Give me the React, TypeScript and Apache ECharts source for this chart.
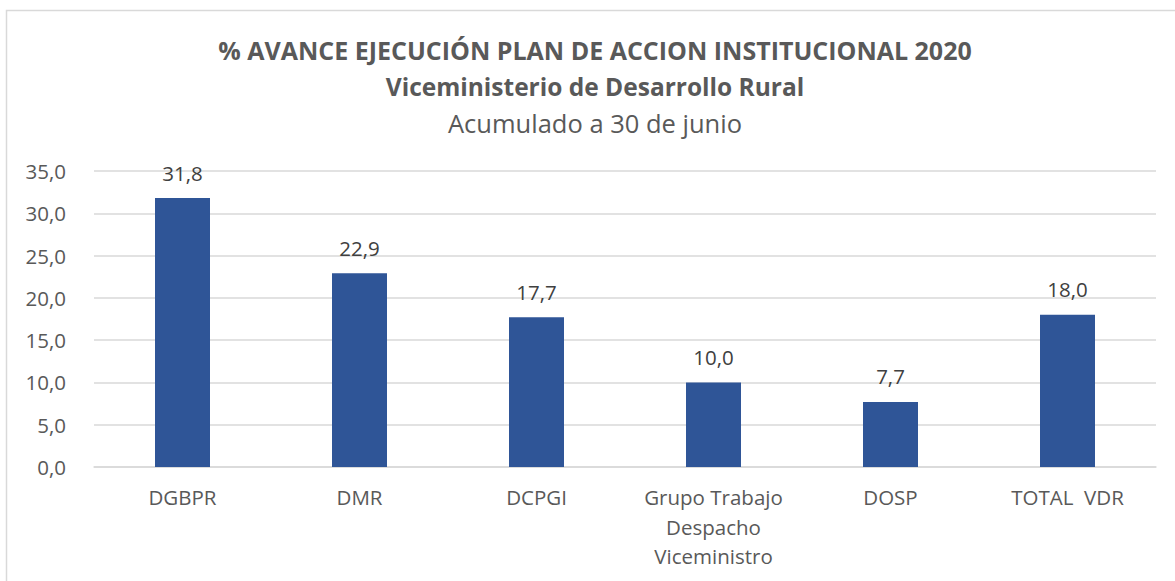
import React, { useEffect, useRef } from "react";
import * as echarts from "echarts";

const categories = ["DGBPR", "DMR", "DCPGI", "Grupo Trabajo\nDespacho\nViceministro", "DOSP", "TOTAL  VDR"];
const values = [31.8, 22.9, 17.7, 10.0, 7.7, 18.0];
const titleLines = [
  "% AVANCE EJECUCIÓN PLAN DE ACCION INSTITUCIONAL 2020",
  "Viceministerio de Desarrollo Rural",
  "Acumulado a 30 de junio",
];

const FONT = "'Open Sans', sans-serif";
const fmt = (v: number) => v.toFixed(1).replace(".", ",");

export default function App() {
  const ref = useRef<HTMLDivElement>(null);
  useEffect(() => {
    if (!ref.current) return;
    const chart = echarts.init(ref.current, undefined, { renderer: "svg" });
    const titleStyle = (size: number, weight: string) => ({
      fontFamily: FONT,
      fontSize: size,
      fontWeight: weight,
      fill: "#595959",
      textAlign: "center",
      textVerticalAlign: "middle",
    });
    chart.setOption({
      animation: false,
      backgroundColor: "#ffffff",
      textStyle: { fontFamily: FONT },
      graphic: [
        {
          type: "rect",
          shape: { x: 6.5, y: 10.5, width: 1200, height: 600 },
          style: { fill: "none", stroke: "#d9d9d9", lineWidth: 1.5 },
          silent: true,
        },
        {
          type: "text",
          x: 595,
          y: 50,
          style: { text: titleLines[0], ...titleStyle(25, "bold") },
          silent: true,
        },
        {
          type: "text",
          x: 595,
          y: 86,
          style: { text: titleLines[1], ...titleStyle(24.5, "bold") },
          silent: true,
        },
        {
          type: "text",
          x: 595,
          y: 123,
          style: { text: titleLines[2], ...titleStyle(25.5, "normal") },
          silent: true,
        },
      ],
      grid: { left: 94, right: 19, top: 171, bottom: 114, containLabel: false },
      xAxis: {
        type: "category",
        data: categories,
        axisLine: { show: true, lineStyle: { color: "#d9d9d9", width: 1.5 } },
        axisTick: { show: false },
        axisLabel: {
          interval: 0,
          color: "#595959",
          fontFamily: FONT,
          fontSize: 20.5,
          lineHeight: 29.5,
          margin: 15.5,
        },
      },
      yAxis: {
        type: "value",
        min: 0,
        max: 35,
        interval: 5,
        axisLine: { show: false },
        axisTick: { show: false },
        splitLine: { lineStyle: { color: "#d9d9d9", width: 1.5 } },
        axisLabel: {
          color: "#595959",
          fontFamily: FONT,
          fontSize: 20.5,
          margin: 28,
          formatter: (v: number) => fmt(v),
        },
      },
      series: [
        {
          type: "bar",
          data: values,
          barWidth: 55,
          itemStyle: { color: "#2F5597" },
          label: {
            show: true,
            position: "top",
            distance: 15,
            color: "#404040",
            fontFamily: FONT,
            fontSize: 20.5,
            formatter: (p: any) => fmt(p.value),
          },
        },
      ],
    });
    return () => chart.dispose();
  }, []);
  return (
    <div
      ref={ref}
      style={{ position: "absolute", left: 0, top: 0, width: 1175, height: 581 }}
    />
  );
}
